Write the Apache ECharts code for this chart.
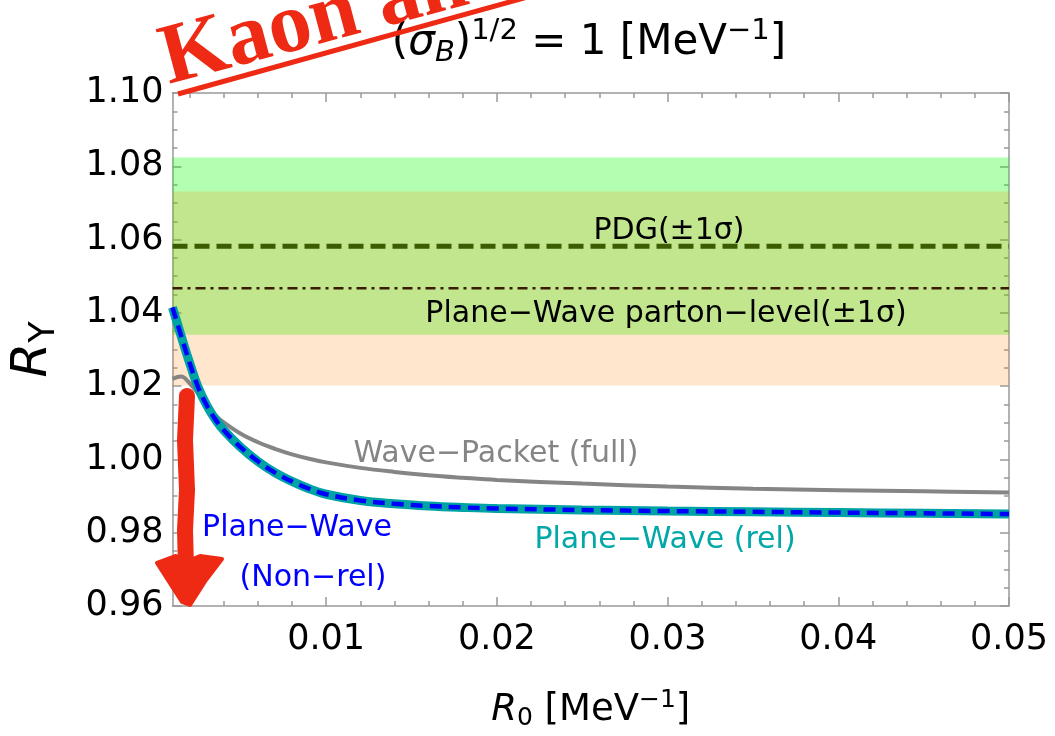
<!DOCTYPE html>
<html>
<head>
<meta charset="utf-8">
<script src="https://cdn.jsdelivr.net/npm/echarts@6/dist/echarts.min.js"></script>
<style>
html, body { margin: 0; padding: 0; background: #fff; }
#main { width: 1055px; height: 736px; }
</style>
</head>
<body>
<div id="main"></div>
<script>
// R0 [MeV^-1]
var r0 = [0.001, 0.0015, 0.002, 0.0025, 0.003, 0.0035, 0.004, 0.005, 0.006, 0.007, 0.008, 0.009,
          0.010, 0.012, 0.014, 0.016, 0.018, 0.020, 0.025, 0.030, 0.035, 0.040, 0.045, 0.050];
// Wave-Packet (full)
var wavePacket = [1.0220, 1.0226, 1.0208, 1.0180, 1.0145, 1.0121, 1.0101, 1.0070, 1.0047, 1.0029, 1.0014, 1.0002,
                  0.9992, 0.9977, 0.9966, 0.9957, 0.9950, 0.9944, 0.9934, 0.9926, 0.9920, 0.9916, 0.9913, 0.9910];
// Plane-Wave (rel)
var planeWaveRel = [1.0415, 1.0338, 1.0264, 1.0197, 1.0148, 1.0110, 1.0080, 1.0033, 0.9995, 0.9964, 0.9940, 0.9920,
                    0.9905, 0.9888, 0.9879, 0.9873, 0.9869, 0.9866, 0.9862, 0.9859, 0.9857, 0.9855, 0.9853, 0.9851];
// Plane-Wave (Non-rel)
var planeWaveNonRel = [1.0415, 1.0338, 1.0264, 1.0197, 1.0148, 1.0110, 1.0080, 1.0033, 0.9995, 0.9964, 0.9940, 0.9920,
                       0.9905, 0.9888, 0.9879, 0.9873, 0.9869, 0.9866, 0.9862, 0.9859, 0.9857, 0.9855, 0.9853, 0.9851];
// PDG(±1σ) and Plane-Wave parton-level(±1σ)
var pdgCentral = 1.0582;
var pdgBand = [1.0340, 1.0824];
var partonCentral = 1.0467;
var partonBand = [1.0202, 1.0731];
// tick labels
var xMajorTicks = [0.01, 0.02, 0.03, 0.04, 0.05];
var xMinorTicks = [0.002, 0.004, 0.006, 0.008, 0.012, 0.014, 0.016, 0.018, 0.022, 0.024, 0.026, 0.028,
                   0.032, 0.034, 0.036, 0.038, 0.042, 0.044, 0.046, 0.048];

var FONT = 'DejaVu Sans';
var frameColor = '#999';
var red = '#ee2a14';

function pairs(xs, ys) {
    var out = [];
    for (var i = 0; i < xs.length; i++) {
        out.push([xs[i], ys[i]]);
    }
    return out;
}
function flat(v) {
    return [[r0[0], v], [r0[r0.length - 1], v]];
}

var xBase = {
    type: 'value', min: r0[0], max: r0[r0.length - 1],
    splitLine: { show: false }
};
function xAxisCfg(pos, ticks, len, showLine, showLabel) {
    return Object.assign({}, xBase, {
        position: pos,
        axisLine: { show: showLine, onZero: false, lineStyle: { color: frameColor, width: 1.5 } },
        axisTick: { show: true, inside: true, length: len, customValues: ticks, lineStyle: { color: frameColor, width: 1.5 } },
        axisLabel: {
            show: showLabel, customValues: ticks, margin: 16,
            fontSize: 35, fontFamily: FONT, color: '#000',
            formatter: function (v) { return v.toFixed(2); }
        }
    });
}
function yAxisCfg(pos, showLabel) {
    return {
        type: 'value', min: 0.96, max: 1.10, interval: 0.02, position: pos,
        splitLine: { show: false },
        axisLine: { show: true, onZero: false, lineStyle: { color: frameColor, width: 1.5 } },
        axisTick: { show: true, inside: true, length: 9, lineStyle: { color: frameColor, width: 1.5 } },
        minorTick: { show: true, splitNumber: 4, length: 5, lineStyle: { color: frameColor, width: 1.5 } },
        axisLabel: {
            show: showLabel, margin: 9, fontSize: 35, fontFamily: FONT, color: '#000',
            formatter: function (v) { return v.toFixed(2); }
        }
    };
}

var myChart = echarts.init(document.getElementById('main'));

var xBottom = xAxisCfg('bottom', xMajorTicks, 9, true, true);
xBottom.name = '{i|R}{sub|0} [MeV{sup|−1}]';
xBottom.nameLocation = 'middle';
xBottom.nameGap = 82;
xBottom.nameTextStyle = {
    fontSize: 37, fontFamily: FONT, color: '#000',
    rich: {
        i: { fontSize: 37, fontFamily: FONT, fontStyle: 'italic', color: '#000' },
        sub: { fontSize: 25, fontFamily: FONT, color: '#000', padding: [16, 0, 0, 0] },
        sup: { fontSize: 25, fontFamily: FONT, color: '#000', padding: [0, 0, 20, 0] }
    }
};

var yLeft = yAxisCfg('left', true);
yLeft.name = '{i|R}{sub|Y}';
yLeft.nameLocation = 'middle';
yLeft.nameRotate = 90;
yLeft.nameGap = 110;
yLeft.nameTextStyle = {
    fontSize: 50, fontFamily: FONT, color: '#000',
    rich: {
        i: { fontSize: 50, fontFamily: FONT, fontStyle: 'italic', color: '#000' },
        sub: { fontSize: 35, fontFamily: FONT, color: '#000', padding: [24, 0, 0, 0] }
    }
};

var option = {
    animation: false,
    backgroundColor: '#fff',
    title: {
        text: '({i|σ}{sub|B}){sup|1/2} = 1 [MeV{sup|−1}]',
        left: 584, top: 12, textAlign: 'center',
        textStyle: {
            fontSize: 42, fontFamily: FONT, fontWeight: 'normal', color: '#000',
            rich: {
                i: { fontSize: 42, fontFamily: FONT, fontStyle: 'italic', color: '#000' },
                sub: { fontSize: 29, fontFamily: FONT, fontStyle: 'italic', color: '#000', padding: [20, 0, 0, 0] },
                sup: { fontSize: 29, fontFamily: FONT, color: '#000', padding: [0, 0, 24, 0] }
            }
        }
    },
    grid: { left: 172, right: 46, top: 93, bottom: 128, containLabel: false },
    xAxis: [
        xBottom,
        xAxisCfg('bottom', xMinorTicks, 5, false, false),
        xAxisCfg('top', xMajorTicks, 9, true, false),
        xAxisCfg('top', xMinorTicks, 5, false, false)
    ],
    yAxis: [yLeft, yAxisCfg('right', false)],
    series: [
        {
            name: 'PDG(±1σ)', type: 'line', z: 3,
            data: flat(pdgCentral), symbol: 'none',
            lineStyle: { color: '#3b5c00', width: 5, type: [15, 7] },
            markArea: {
                silent: true, z: 1,
                data: [
                    [{ yAxis: pdgBand[0], itemStyle: { color: 'rgba(0,255,0,0.3)' } }, { yAxis: pdgBand[1] }],
                    [{ yAxis: partonBand[0], itemStyle: { color: 'rgba(255,128,0,0.2)' } }, { yAxis: partonBand[1] }]
                ]
            }
        },
        {
            name: 'Plane-Wave parton-level(±1σ)', type: 'line', z: 3,
            data: flat(partonCentral), symbol: 'none',
            lineStyle: { color: '#3a1c00', width: 2.5, type: [10, 5, 3, 5] }
        },
        {
            name: 'Wave-Packet (full)', type: 'line', z: 4, smooth: 0.4,
            data: pairs(r0, wavePacket), symbol: 'none',
            lineStyle: { color: '#858585', width: 4 }
        },
        {
            name: 'Plane-Wave (rel)', type: 'line', z: 5, smooth: 0.4,
            data: pairs(r0, planeWaveRel), symbol: 'none',
            lineStyle: { color: '#00a3a3', width: 9 }
        },
        {
            name: 'Plane-Wave (Non-rel)', type: 'line', z: 6, smooth: 0.4,
            data: pairs(r0, planeWaveNonRel), symbol: 'none',
            lineStyle: { color: '#0000ff', width: 4.5, type: [12, 7] }
        }
    ],
    graphic: [
        { type: 'text', x: 669, y: 231, z: 10, style: { text: 'PDG(±1σ)', font: '30px "DejaVu Sans"', fill: '#000', align: 'center', verticalAlign: 'middle' } },
        { type: 'text', x: 666, y: 314, z: 10, style: { text: 'Plane−Wave parton−level(±1σ)', font: '30px "DejaVu Sans"', fill: '#000', align: 'center', verticalAlign: 'middle' } },
        { type: 'text', x: 496, y: 454, z: 10, style: { text: 'Wave−Packet (full)', font: '30px "DejaVu Sans"', fill: '#858585', align: 'center', verticalAlign: 'middle' } },
        { type: 'text', x: 297, y: 528, z: 10, style: { text: 'Plane−Wave', font: '30px "DejaVu Sans"', fill: '#0000ff', align: 'center', verticalAlign: 'middle' } },
        { type: 'text', x: 313, y: 578, z: 10, style: { text: '(Non−rel)', font: '30px "DejaVu Sans"', fill: '#0000ff', align: 'center', verticalAlign: 'middle' } },
        { type: 'text', x: 665, y: 540, z: 10, style: { text: 'Plane−Wave (rel)', font: '30px "DejaVu Sans"', fill: '#00a8a8', align: 'center', verticalAlign: 'middle' } },
        // red hand annotations
        { type: 'line', z: 20, shape: { x1: 178, y1: 94, x2: 560, y2: -12 }, style: { stroke: red, lineWidth: 5 } },
        { type: 'text', x: 174, y: 104, rotation: 0.26, z: 20, style: { text: 'Kaon anomaly', font: 'bold 86px "Liberation Serif"', fill: red, align: 'left', verticalAlign: 'bottom' } },
        { type: 'polyline', z: 20, shape: { points: [[187, 396], [185, 440], [187, 490], [185, 530], [186, 568]] }, style: { stroke: red, lineWidth: 16, lineCap: 'round', lineJoin: 'round', fill: null } },
        { type: 'polygon', z: 20, shape: { points: [[157, 563], [176, 556], [188, 561], [200, 556], [222, 559], [206, 580], [190, 605], [182, 602]] }, style: { fill: red, stroke: red, lineWidth: 4, lineJoin: 'round' } }
    ]
};

myChart.setOption(option);
</script>
</body>
</html>
